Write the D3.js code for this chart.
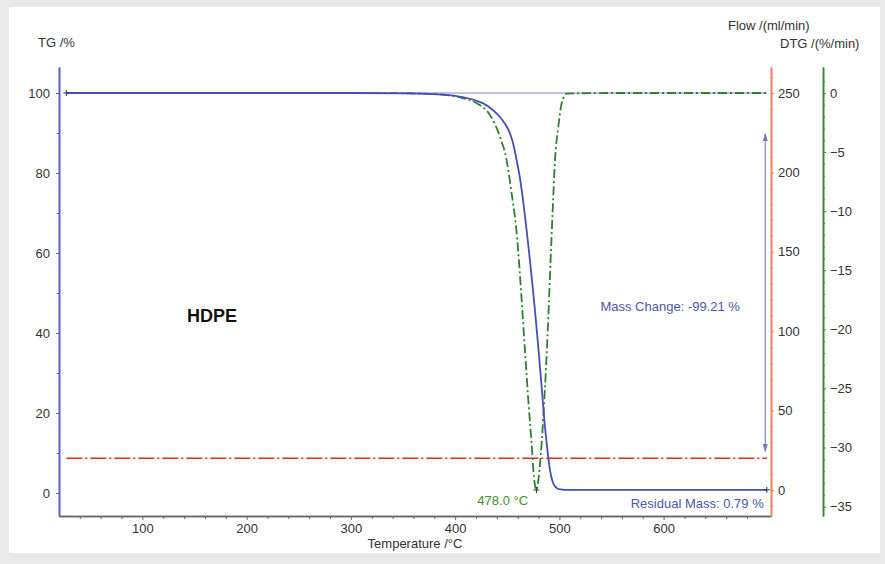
<!DOCTYPE html>
<html>
<head>
<meta charset="utf-8">
<script src="https://cdn.jsdelivr.net/npm/d3@7"></script>
<style>
  body { margin: 0; background: #e9e9e9; }
  svg { display: block; font-family: "Liberation Sans", Arial, sans-serif; }
  .tick text { fill: #333; font-size: 13px; }
</style>
</head>
<body>
<svg id="chart" width="885" height="564"></svg>
<script>
// --- data ---
const tgTemp = [27, 100, 200, 300, 350, 380, 400, 415, 427, 435, 443, 446, 449, 452, 455, 457, 459, 462, 465, 468, 471, 474, 477, 480, 483, 486, 488, 490, 492, 494, 496, 498, 501, 505, 510, 560, 600, 650, 699];
const tgMass = [100, 100, 100, 100, 99.9, 99.7, 99.3, 98.5, 97.4, 96, 94, 93, 91.8, 90.3, 88, 85.8, 83.2, 79, 73.5, 67, 60, 52.5, 44.5, 35.8, 26.5, 17, 12, 7.5, 4.3, 2.5, 1.6, 1.15, 0.9, 0.8, 0.79, 0.79, 0.79, 0.79, 0.79];

const dtgTemp = [27, 100, 200, 300, 350, 380, 395, 408, 420.7, 433.4, 443, 449.4, 454.2, 458.4, 460.6, 463.8, 467, 470.2, 473.4, 475.6, 478, 479.8, 482, 484.6, 487.2, 489.4, 491.5, 493.6, 495.8, 499, 502.2, 507, 550, 600, 650, 699];
const dtgRate = [0, 0, 0, 0, -0.02, -0.08, -0.2, -0.45, -0.87, -1.86, -3.7, -5.7, -8.5, -11.3, -13.5, -17.5, -21.8, -26, -29.7, -32.5, -33.6, -32.8, -30.8, -27.4, -23.2, -19, -14.3, -9.9, -5.7, -2.85, -0.87, -0.05, 0, 0, 0, 0];

const flowTemp = [27, 699];
const flowRate = [20, 20];

const tempTicks = [100, 200, 300, 400, 500, 600];
const tgTicks = [0, 20, 40, 60, 80, 100];
const flowTicks = [0, 50, 100, 150, 200, 250];
const dtgTicks = [0, -5, -10, -15, -20, -25, -30, -35];

const peakTemp = 478.0;
const peakRate = -33.6;
const massChange = -99.21;
const residualMass = 0.79;
const sampleName = "HDPE";

// --- layout ---
const plotLeft = 59, plotRight = 771, plotTop = 67, plotBottom = 516, dtgAxisX = 823;
const svg = d3.select("#chart");

svg.append("rect").attr("x", 9).attr("y", 7).attr("width", 871).attr("height", 546).attr("fill", "#fff");

const x = d3.scaleLinear().domain([20, 703]).range([plotLeft, plotRight]);
const yTG = d3.scaleLinear().domain([-5.75, 106.5]).range([plotBottom, plotTop]);
const yFlow = d3.scaleLinear().domain([-16.37, 266.37]).range([plotBottom, plotTop]);
const yDTG = d3.scaleLinear().domain([-35.8, 2.2]).range([plotBottom, plotTop]);

const blue = "#5a62c2", orange = "#f2805e", green = "#3d8b3d";

function styleAxis(g, color) {
  g.select(".domain").attr("stroke", color).attr("stroke-width", 1.6);
  g.selectAll(".tick line").attr("stroke", color);
}

// bottom axis
const minorT = d3.range(40, 701, 20).filter(t => t % 100 != 0);
svg.append("g").attr("transform", `translate(0,${plotBottom})`)
  .call(d3.axisBottom(x).tickValues(minorT).tickFormat("").tickSize(3).tickSizeOuter(0))
  .call(g => styleAxis(g, "#666"));
svg.append("g").attr("transform", `translate(0,${plotBottom})`)
  .call(d3.axisBottom(x).tickValues(tempTicks).tickSize(4).tickSizeOuter(0).tickPadding(4))
  .call(g => styleAxis(g, "#666"));

// left TG axis
svg.append("g").attr("transform", `translate(${plotLeft},0)`)
  .call(d3.axisLeft(yTG).tickValues(d3.range(0, 101, 10).filter(v => v % 20 != 0)).tickFormat("").tickSize(2).tickSizeOuter(0))
  .call(g => styleAxis(g, blue));
svg.append("g").attr("transform", `translate(${plotLeft},0)`)
  .call(d3.axisLeft(yTG).tickValues(tgTicks).tickSize(3).tickSizeOuter(0).tickPadding(6))
  .call(g => styleAxis(g, blue));

// right flow axis
svg.append("g").attr("transform", `translate(${plotRight},0)`)
  .call(d3.axisRight(yFlow).tickValues(d3.range(-10, 261, 10).filter(v => v % 50 != 0)).tickFormat("").tickSize(2).tickSizeOuter(0))
  .call(g => styleAxis(g, orange));
svg.append("g").attr("transform", `translate(${plotRight},0)`)
  .call(d3.axisRight(yFlow).tickValues(flowTicks).tickSize(3).tickSizeOuter(0).tickPadding(4))
  .call(g => styleAxis(g, orange));

// DTG axis
svg.append("g").attr("transform", `translate(${dtgAxisX},0)`)
  .call(d3.axisRight(yDTG).tickValues(d3.range(-35, 2, 1).filter(v => v % 5 != 0)).tickFormat("").tickSize(2).tickSizeOuter(0))
  .call(g => styleAxis(g, green));
svg.append("g").attr("transform", `translate(${dtgAxisX},0)`)
  .call(d3.axisRight(yDTG).tickValues(dtgTicks).tickSize(3).tickSizeOuter(0).tickPadding(4))
  .call(g => styleAxis(g, green));

// axis titles
const title = (tx, ty, s, anchor) => svg.append("text").attr("x", tx).attr("y", ty)
  .attr("text-anchor", anchor || "start").attr("font-size", 13).attr("fill", "#333").text(s);
title(38, 47, "TG /%");
title(728, 30, "Flow /(ml/min)");
title(780, 48, "DTG /(%/min)");
title(415, 548, "Temperature /°C", "middle");

// reference line at 100 %
svg.append("line")
  .attr("x1", x(tgTemp[0])).attr("x2", x(tgTemp[tgTemp.length - 1]))
  .attr("y1", yTG(100)).attr("y2", yTG(100))
  .attr("stroke", "#7f86d0").attr("stroke-width", 1);

// flow line
const flowData = flowTemp.map((t, i) => [t, flowRate[i]]);
svg.append("path").datum(flowData)
  .attr("d", d3.line().x(d => x(d[0])).y(d => yFlow(d[1])))
  .attr("fill", "none").attr("stroke", "#e8291c").attr("stroke-width", 1.6)
  .attr("stroke-dasharray", "16,3,2,3");

// DTG curve
const dtgData = dtgTemp.map((t, i) => [t, dtgRate[i]]);
svg.append("path").datum(dtgData)
  .attr("d", d3.line().curve(d3.curveMonotoneX).x(d => x(d[0])).y(d => yDTG(d[1])))
  .attr("fill", "none").attr("stroke", "#2f7f2f").attr("stroke-width", 1.8)
  .attr("stroke-dasharray", "9,3,2,3");

// TG curve
const tgData = tgTemp.map((t, i) => [t, tgMass[i]]);
svg.append("path").datum(tgData)
  .attr("d", d3.line().curve(d3.curveMonotoneX).x(d => x(d[0])).y(d => yTG(d[1])))
  .attr("fill", "none").attr("stroke", "#4450b8").attr("stroke-width", 1.8);

// plus markers
const plus = (px, py) => svg.append("path")
  .attr("d", `M${px - 3},${py}H${px + 3}M${px},${py - 3}V${py + 3}`)
  .attr("stroke", "#333").attr("stroke-width", 1);
plus(x(tgTemp[0]), yTG(tgMass[0]));
plus(x(tgTemp[tgTemp.length - 1]), yTG(tgMass[tgMass.length - 1]));
plus(x(peakTemp), yDTG(peakRate));

// mass change arrow
const defs = svg.append("defs");
defs.append("marker").attr("id", "ah").attr("viewBox", "0 0 10 10")
  .attr("refX", 9).attr("refY", 5).attr("markerWidth", 7).attr("markerHeight", 7)
  .attr("orient", "auto-start-reverse")
  .append("path").attr("d", "M0,2L10,5L0,8Z").attr("fill", "#6c74c8");
svg.append("line")
  .attr("x1", x(697.5)).attr("x2", x(697.5))
  .attr("y1", yTG(89.8)).attr("y2", yTG(10.4))
  .attr("stroke", "#7f86d0").attr("stroke-width", 1.2)
  .attr("marker-start", "url(#ah)").attr("marker-end", "url(#ah)");

// annotations
svg.append("text").attr("x", x(673.2)).attr("y", yTG(45.5)).attr("text-anchor", "end")
  .attr("font-size", 13).attr("fill", "#4b56ac").text(`Mass Change: ${massChange.toFixed(2)} %`);
svg.append("text").attr("x", x(696)).attr("y", yTG(-3.75)).attr("text-anchor", "end")
  .attr("font-size", 13).attr("fill", "#4b56ac").text(`Residual Mass: ${residualMass.toFixed(2)} %`);
svg.append("text").attr("x", x(470)).attr("y", yTG(-3)).attr("text-anchor", "end")
  .attr("font-size", 13).attr("fill", "#3f8f2f").text(`${peakTemp.toFixed(1)} °C`);
svg.append("text").attr("x", x(142.8)).attr("y", yTG(42.75))
  .attr("font-size", 18).attr("font-weight", "bold").attr("fill", "#111").text(sampleName);
</script>
</body>
</html>
